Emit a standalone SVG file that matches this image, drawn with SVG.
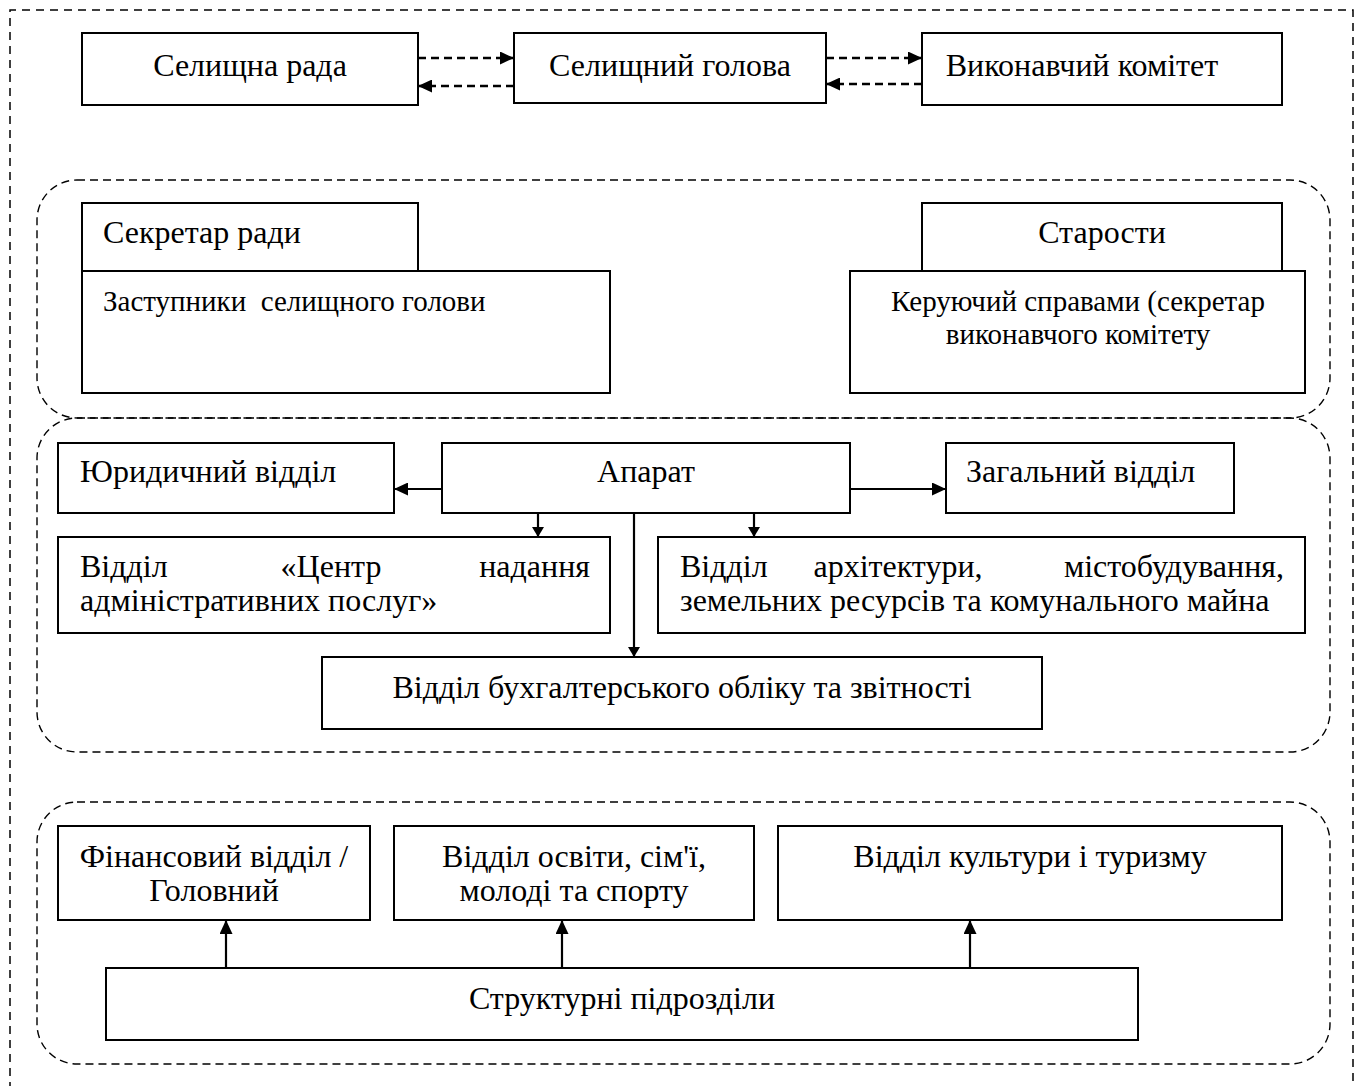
<svg xmlns="http://www.w3.org/2000/svg" width="1357" height="1086" viewBox="0 0 1357 1086">
<defs>
<marker id="ah" viewBox="0 0 10 12" refX="10" refY="6" markerWidth="10" markerHeight="12" markerUnits="userSpaceOnUse" orient="auto">
<path d="M0,0 L10,6 L0,12 z" fill="#000"/>
</marker>
<marker id="ahb" viewBox="0 0 14 13" refX="14" refY="6.5" markerWidth="14" markerHeight="13" markerUnits="userSpaceOnUse" orient="auto">
<path d="M0,0 L14,6.5 L0,13 z" fill="#000"/>
</marker>
</defs>
<style>
.box{fill:#fff;stroke:#000;stroke-width:2}
.grp{fill:none;stroke:#000;stroke-width:1.4;stroke-dasharray:8 5}
.outer{fill:none;stroke:#000;stroke-width:1.5;stroke-dasharray:8 6}
.t{font-family:"Liberation Serif","Times New Roman",serif;font-size:32px;fill:#000}
.s{font-size:29px}
.m{text-anchor:middle}
.e{text-anchor:end}
.dash{fill:none;stroke:#000;stroke-width:2.4;stroke-dasharray:8 5}
.solid{fill:none;stroke:#000;stroke-width:2.2}
</style>
<rect width="1357" height="1086" fill="#fff"/>
<path class="outer" d="M10,1090 L10,10 L1353,10 L1353,1090"/>
<g id="groups">
<rect class="grp" x="37" y="180" width="1293" height="238" rx="40"/>
<rect class="grp" x="37" y="418" width="1293" height="334" rx="40"/>
<rect class="grp" x="37" y="802" width="1293" height="262" rx="40"/>
</g>
<g id="n-rada"><rect class="box" x="82" y="33" width="336" height="72"/><text class="t m" x="250" y="76">Селищна рада</text></g>
<g id="n-holova"><rect class="box" x="514" y="33" width="312" height="70"/><text class="t m" x="670" y="76">Селищний голова</text></g>
<g id="n-vykonkom"><rect class="box" x="922" y="33" width="360" height="72"/><text class="t m" x="1082" y="76">Виконавчий комітет</text></g>
<g id="n-sekretar"><rect class="box" x="82" y="203" width="336" height="68"/><text class="t" x="103" y="243">Секретар ради</text></g>
<g id="n-zastupnyky"><rect class="box" x="82" y="271" width="528" height="122"/><text class="t s" x="103" y="311" xml:space="preserve">Заступники  селищного голови</text></g>
<g id="n-starosty"><rect class="box" x="922" y="203" width="360" height="68"/><text class="t m" x="1102" y="243">Старости</text></g>
<g id="n-keruyuchyi"><rect class="box" x="850" y="271" width="455" height="122"/><text class="t s m" x="1078" y="311">Керуючий справами (секретар</text><text class="t s m" x="1078" y="344">виконавчого комітету</text></g>
<g id="n-yurydychnyi"><rect class="box" x="58" y="443" width="336" height="70"/><text class="t" x="80" y="482">Юридичний відділ</text></g>
<g id="n-aparat"><rect class="box" x="442" y="443" width="408" height="70"/><text class="t m" x="646" y="482">Апарат</text></g>
<g id="n-zahalnyi"><rect class="box" x="946" y="443" width="288" height="70"/><text class="t" x="966" y="482">Загальний відділ</text></g>
<g id="n-tsnap"><rect class="box" x="58" y="537" width="552" height="96"/><text class="t" x="80" y="577">Відділ</text><text class="t m" x="331" y="577">«Центр</text><text class="t e" x="590" y="577">надання</text><text class="t" x="80" y="611">адміністративних послуг»</text></g>
<g id="n-arkhitektura"><rect class="box" x="658" y="537" width="647" height="96"/><text class="t" x="680" y="577">Відділ</text><text class="t m" x="898" y="577">архітектури,</text><text class="t e" x="1284" y="577">містобудування,</text><text class="t" x="680" y="611">земельних ресурсів та комунального майна</text></g>
<g id="n-bukhhalteriya"><rect class="box" x="322" y="657" width="720" height="72"/><text class="t m" x="682" y="698">Відділ бухгалтерського обліку та звітності</text></g>
<g id="n-finansovyi"><rect class="box" x="58" y="826" width="312" height="94"/><text class="t m" x="214" y="867">Фінансовий відділ /</text><text class="t m" x="214" y="901">Головний</text></g>
<g id="n-osvita"><rect class="box" x="394" y="826" width="360" height="94"/><text class="t m" x="574" y="867">Відділ освіти, сім'ї,</text><text class="t m" x="574" y="901">молоді та спорту</text></g>
<g id="n-kultura"><rect class="box" x="778" y="826" width="504" height="94"/><text class="t m" x="1030" y="867">Відділ культури і туризму</text></g>
<g id="n-strukturni"><rect class="box" x="106" y="968" width="1032" height="72"/><text class="t m" x="622" y="1009">Структурні підрозділи</text></g>
<g id="connectors">
<path class="dash" d="M418,58 L514,58" marker-end="url(#ahb)"/>
<path class="dash" d="M514,86 L418,86" marker-end="url(#ahb)"/>
<path class="dash" d="M826,58 L922,58" marker-end="url(#ahb)"/>
<path class="dash" d="M922,84 L826,84" marker-end="url(#ahb)"/>
<path class="solid" d="M442,489 L394,489" marker-end="url(#ahb)"/>
<path class="solid" d="M850,489 L946,489" marker-end="url(#ahb)"/>
<path class="solid" d="M538,513 L538,537" marker-end="url(#ah)"/>
<path class="solid" d="M754,513 L754,537" marker-end="url(#ah)"/>
<path class="solid" d="M634,513 L634,657" marker-end="url(#ah)"/>
<path class="solid" d="M226,968 L226,920" marker-end="url(#ahb)"/>
<path class="solid" d="M562,968 L562,920" marker-end="url(#ahb)"/>
<path class="solid" d="M970,968 L970,920" marker-end="url(#ahb)"/>
</g>
</svg>
